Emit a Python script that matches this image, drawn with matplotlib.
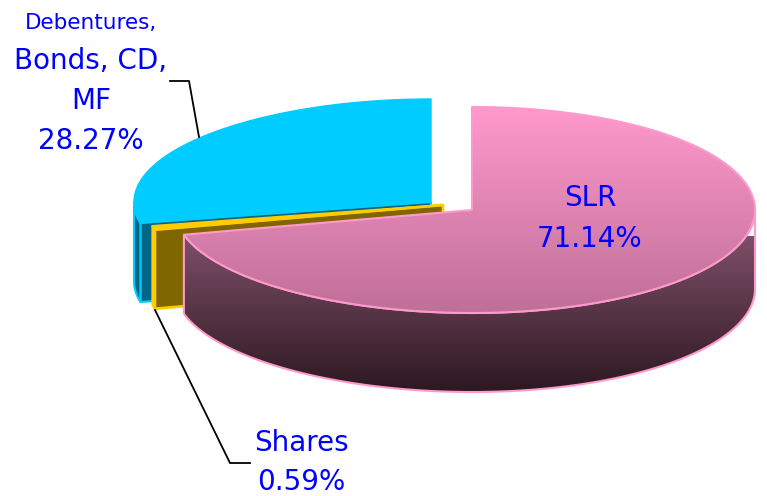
import numpy as np
import matplotlib
matplotlib.use("Agg")
import matplotlib.pyplot as plt
from matplotlib.patches import Polygon

# clockwise from the top of the pie
categories = ["SLR", "Shares", "Debentures"]
values = [71.14, 0.59, 28.27]

A = 290.0    # ellipse half width
B = 103.0    # ellipse half height
K = 7.0      # slight perspective
DEPTH = 79.0

apex = {"SLR": (472, 210), "Shares": (443, 205), "Debentures": (431, 202)}

fig = plt.figure(figsize=(7.67, 4.96), dpi=100)
ax = fig.add_axes([0, 0, 1, 1])
ax.set_xlim(0, 767)
ax.set_ylim(496, 0)
ax.axis("off")


def arc(name, t0, t1, n=200):
    t = np.radians(np.linspace(t0, t1, n))
    X = np.cos(t)
    Y = np.sin(t)
    x = apex[name][0] + A * X - K * X * X
    y = apex[name][1] - B * Y
    return np.column_stack([x, y])


def poly(pts, face, edge, lw, z):
    p = Polygon(pts, closed=True, facecolor=face, edgecolor=edge, linewidth=lw,
                joinstyle="round", zorder=z)
    ax.add_patch(p)
    return p


def gradient(patch, c0, c1, y0, y1, z):
    c0 = np.array(matplotlib.colors.to_rgb(c0))
    c1 = np.array(matplotlib.colors.to_rgb(c1))
    f = np.linspace(0, 1, 256)[:, None, None]
    img = (1 - f) * c0[None, None, :] + f * c1[None, None, :]
    im = ax.imshow(img, extent=[0, 767, y1, y0], aspect="auto", zorder=z)
    im.set_clip_path(patch)
    ax.set_xlim(0, 767)
    ax.set_ylim(496, 0)


def down(pts):
    return pts + np.array([0, DEPTH])


# angles measured counter clockwise, slices start at the top and go clockwise
slr_end = 90 - values[0] * 3.6
shares_end = slr_end - values[1] * 3.6
deb_end = shares_end - values[2] * 3.6

# debentures slice, back layer
name = "Debentures"
top = arc(name, 90, slr_end + 360 - values[1] * 3.6)
ap = np.array(apex[name], dtype=float)
cut = np.array([ap, top[-1], down(top)[-1], down(ap[None])[0]])
poly(cut, "#006688", "#00CCFF", 1.5, 2)
side = arc(name, 180, slr_end + 360 - values[1] * 3.6)
poly(np.vstack([side, down(side)[::-1]]), "#006688", "#00CCFF", 1.5, 2)
poly(np.vstack([ap, top]), "#00CCFF", "#00CCFF", 1.0, 3)

# shares slice
name = "Shares"
top = arc(name, slr_end + 360 - values[1] * 3.6, slr_end + 360, 10)
ap = np.array(apex[name], dtype=float)
cut = np.array([ap, top[-1], down(top)[-1], down(ap[None])[0]])
poly(cut, "#806600", "#FFCC00", 2.0, 4)
poly(np.vstack([top, down(top)[::-1]]), "#FFCC00", "#FFCC00", 1.5, 4)
poly(np.vstack([ap, top]), "#FFCC00", "#FFCC00", 1.5, 5)

# SLR slice, in front
name = "SLR"
ap = np.array(apex[name], dtype=float)
side = arc(name, slr_end + 360, 360)
side_patch = poly(np.vstack([side, down(side)[::-1]]), "none", "none", 0, 6)
gradient(side_patch, "#7E4F68", "#2C1820", 236, 392, 6)
poly(np.vstack([side, down(side)[::-1]]), "none", "#FF99CC", 1.5, 7)

top = arc(name, 90, slr_end, 300)
top_patch = poly(np.vstack([ap, top]), "none", "none", 0, 8)
gradient(top_patch, "#FF99CC", "#BF6F98", 107, 313, 8)
poly(np.vstack([ap, top]), "none", "#FF99CC", 1.5, 9)

# leader lines
ax.plot([170, 189, 199], [81, 81, 137], color="black", lw=1.3, zorder=10)
ax.plot([155, 230, 250], [310, 463, 463], color="black", lw=1.3, zorder=10)

# labels
blue = "#0000FF"
txt = dict(color=blue, ha="center", va="center", family="DejaVu Sans", zorder=11)
ax.text(91, 23, "Debentures,", fontsize=15.5, **txt)
ax.text(91, 61, "Bonds, CD,", fontsize=20, **txt)
ax.text(91, 101, "MF", fontsize=20, **txt)
ax.text(91, 141, "28.27%", fontsize=20, **txt)
ax.text(590, 198, "SLR", fontsize=20, **txt)
ax.text(590, 239, "71.14%", fontsize=20, **txt)
ax.text(301, 443, "Shares", fontsize=20, **txt)
ax.text(301, 482, "0.59%", fontsize=20, **txt)

fig.savefig("out.png", dpi=100)
